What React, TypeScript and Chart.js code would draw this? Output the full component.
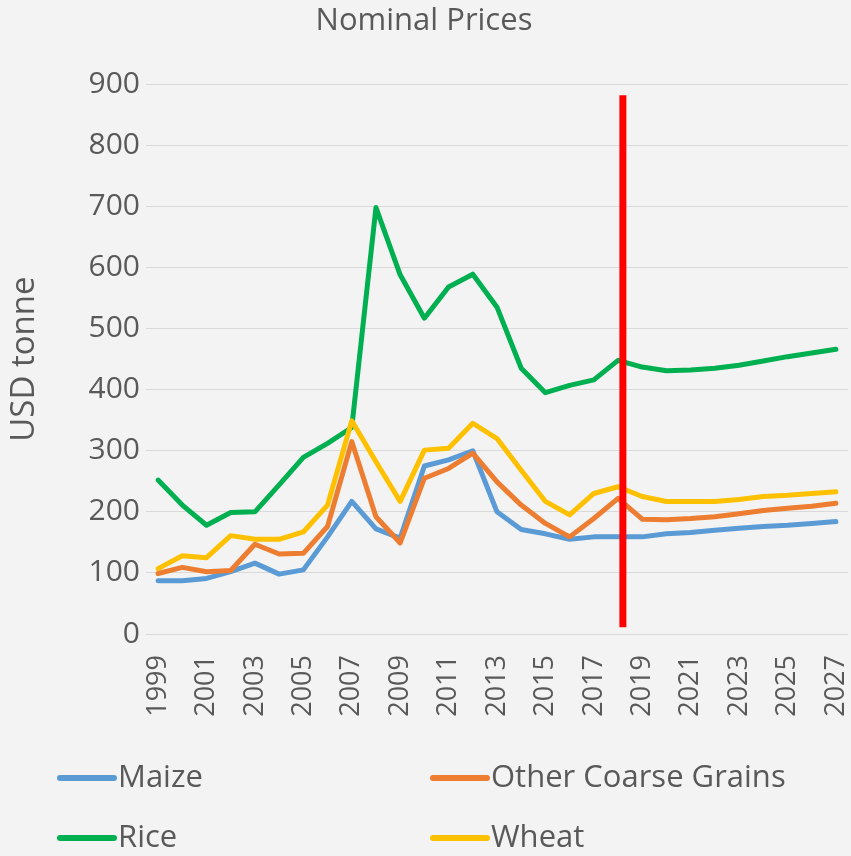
import React, { useEffect, useRef } from "react";
import { Chart, registerables } from "chart.js";

Chart.register(...registerables);

const years = [
  "1999", "2000", "2001", "2002", "2003", "2004", "2005", "2006", "2007", "2008",
  "2009", "2010", "2011", "2012", "2013", "2014", "2015", "2016", "2017", "2018",
  "2019", "2020", "2021", "2022", "2023", "2024", "2025", "2026", "2027",
];

const maize = [87, 87, 91, 102, 116, 98, 105, 159, 217, 172, 157, 275, 285, 300, 200, 171, 164, 155, 159, 159, 159, 164, 166, 170, 173, 176, 178, 181, 184];
const otherCoarse = [99, 109, 102, 104, 147, 131, 132, 176, 315, 192, 149, 255, 271, 296, 249, 211, 181, 159, 189, 222, 188, 187, 189, 192, 197, 202, 206, 209, 214];
const rice = [252, 211, 178, 199, 200, 244, 289, 312, 338, 698, 588, 517, 568, 589, 535, 435, 395, 407, 416, 448, 437, 431, 432, 435, 440, 447, 454, 460, 466];
const wheat = [107, 128, 125, 161, 155, 155, 167, 211, 349, 282, 217, 301, 304, 345, 320, 268, 217, 195, 230, 241, 225, 217, 217, 217, 220, 225, 227, 230, 233];

const seriesNames = ["Maize", "Other Coarse Grains", "Rice", "Wheat"];
const seriesColors = ["#5B9BD5", "#ED7D31", "#00B050", "#FFC000"];

const yTicks = [0, 100, 200, 300, 400, 500, 600, 700, 800, 900];

const MARKER_YEAR = "2018";
const MARKER_SHIFT = 0.2; // fraction of a category
const MARKER_TOP = 882;
const MARKER_BOTTOM = 11;

const FONT = "'Open Sans', 'DejaVu Sans', sans-serif";
const TEXT = "#595959";

export default function App() {
  const ref = useRef<HTMLCanvasElement | null>(null);

  useEffect(() => {
    if (!ref.current) return;

    const bgPlugin = {
      id: "bg",
      beforeDraw(chart: any) {
        const { ctx, width, height } = chart;
        ctx.save();
        ctx.fillStyle = "#f3f3f3";
        ctx.fillRect(0, 0, width, height);
        ctx.restore();
      },
    };

    const markerPlugin = {
      id: "marker",
      afterDatasetsDraw(chart: any) {
        const xs = chart.scales.x;
        const ys = chart.scales.y;
        const idx = years.indexOf(MARKER_YEAR);
        const step = xs.getPixelForValue(1) - xs.getPixelForValue(0);
        const x = xs.getPixelForValue(idx) + MARKER_SHIFT * step;
        const ctx = chart.ctx;
        ctx.save();
        ctx.strokeStyle = "#FF0000";
        ctx.lineWidth = 7;
        ctx.beginPath();
        ctx.moveTo(x, ys.getPixelForValue(MARKER_TOP));
        ctx.lineTo(x, ys.getPixelForValue(MARKER_BOTTOM));
        ctx.stroke();
        ctx.restore();
      },
    };

    const legendPlugin = {
      id: "customLegend",
      afterDraw(chart: any) {
        const ctx = chart.ctx;
        const base = chart.chartArea.bottom;
        const cols = [57, 430];
        const rows = [base + 144, base + 204];
        ctx.save();
        ctx.font = `31px ${FONT}`;
        ctx.textBaseline = "middle";
        ctx.textAlign = "left";
        seriesNames.forEach((name, i) => {
          const cx = cols[i % 2];
          const cy = rows[Math.floor(i / 2)];
          ctx.strokeStyle = seriesColors[i];
          ctx.lineWidth = 6;
          ctx.lineCap = "round";
          ctx.beginPath();
          ctx.moveTo(cx + 3, cy);
          ctx.lineTo(cx + 57, cy);
          ctx.stroke();
          ctx.fillStyle = TEXT;
          ctx.fillText(name, cx + 61, cy);
        });
        ctx.restore();
      },
    };

    const values = [maize, otherCoarse, rice, wheat];
    const drawOrder = [3, 2, 1, 0];

    const chart = new Chart(ref.current, {
      type: "line",
      data: {
        labels: years,
        datasets: seriesNames.map((name, i) => ({
          label: name,
          data: values[i],
          borderColor: seriesColors[i],
          backgroundColor: seriesColors[i],
          borderWidth: 5,
          pointRadius: 0,
          tension: 0,
          fill: false,
          order: drawOrder[i],
          borderJoinStyle: "round" as const,
          borderCapStyle: "round" as const,
        })),
      },
      options: {
        responsive: false,
        animation: false,
        layout: { padding: { left: 0, right: 3, top: 0, bottom: 122 } },
        plugins: {
          legend: { display: false },
          tooltip: { enabled: false },
          title: {
            display: true,
            text: "Nominal Prices",
            color: TEXT,
            font: { family: FONT, size: 31, weight: "normal" },
            padding: { top: 3, bottom: 44 },
          },
        },
        scales: {
          x: {
            offset: true,
            grid: { display: false, drawTicks: false },
            border: { display: false },
            ticks: {
              autoSkip: false,
              minRotation: 90,
              maxRotation: 90,
              padding: 21,
              color: TEXT,
              font: { family: FONT, size: 27 },
              callback: (_v: any, i: number) => (i % 2 === 0 ? years[i] : ""),
            },
            afterFit: (s: any) => {
              s.height = 100;
              s.paddingLeft = 0;
              s.paddingRight = 0;
            },
          },
          y: {
            min: 0,
            max: 900,
            afterBuildTicks: (s: any) => {
              s.ticks = yTicks.map((v) => ({ value: v }));
            },
            grid: { color: "#d9d9d9", lineWidth: 1, drawTicks: false },
            border: { display: false },
            ticks: {
              padding: 6,
              color: TEXT,
              font: { family: FONT, size: 30 },
            },
            title: {
              display: true,
              text: "USD tonne",
              color: TEXT,
              font: { family: FONT, size: 33 },
              padding: { top: 5, bottom: 0 },
            },
            afterFit: (s: any) => {
              s.width = 146;
              s.paddingTop = 0;
              s.paddingBottom = 0;
            },
          },
        },
      },
      plugins: [bgPlugin, markerPlugin, legendPlugin],
    });

    return () => chart.destroy();
  }, []);

  return (
    <div style={{ position: "absolute", left: 0, top: 0, width: 851, height: 856 }}>
      <canvas ref={ref} width={851} height={856} />
    </div>
  );
}
